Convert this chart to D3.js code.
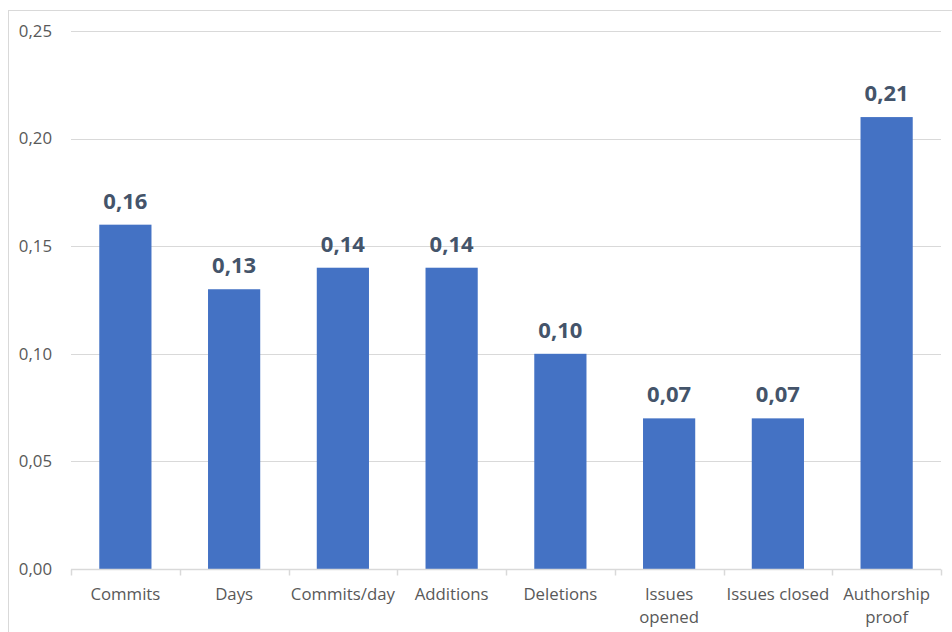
<!DOCTYPE html>
<html>
<head>
<meta charset="utf-8">
<script src="https://d3js.org/d3.v7.min.js"></script>
<style>
  body {
    margin: 0;
    background: #fff;
    font-family: "Open Sans", Arial, sans-serif;
  }
  .tick-label {
    font-size: 16.8px;
    fill: #595959;
  }
  .value-label {
    font-size: 22px;
    font-weight: bold;
    fill: #44546a;
  }
</style>
</head>
<body>
<div id="chart"></div>

<script>

// data
var categories = ["Commits", "Days", "Commits/day", "Additions", "Deletions", "Issues opened", "Issues closed", "Authorship proof"];
var catLines = [["Commits"], ["Days"], ["Commits/day"], ["Additions"], ["Deletions"], ["Issues", "opened"], ["Issues closed"], ["Authorship", "proof"]];
var values = [0.16, 0.13, 0.14, 0.14, 0.10, 0.07, 0.07, 0.21];
var yTicks = [0, 0.05, 0.10, 0.15, 0.20, 0.25];

var W = 952, H = 632;

var svg = d3.select("#chart")
  .append("svg")
    .attr("width", W)
    .attr("height", H);

// chart frame (runs off the right/bottom edge in the picture)
svg.append("rect")
    .attr("x", 8.5)
    .attr("y", 10.5)
    .attr("width", W + 20)
    .attr("height", H + 20)
    .attr("fill", "none")
    .attr("stroke", "#d9d9d9");

var locale = d3.formatLocale({decimal: ",", thousands: ".", grouping: [3], currency: ["", ""]});
var fmt = locale.format(".2f");

var x = d3.scaleBand()
    .domain(categories)
    .range([71, 941])
    .padding(0);

var y = d3.scaleLinear()
    .domain([0, 0.25])
    .range([569, 31]);

// gridlines
svg.append("g")
  .selectAll("line")
  .data(yTicks.filter(function(d) { return d > 0; }))
  .enter()
  .append("line")
    .attr("x1", 71)
    .attr("x2", 941)
    .attr("y1", function(d) { return Math.round(y(d)) + 0.5; })
    .attr("y2", function(d) { return Math.round(y(d)) + 0.5; })
    .attr("stroke", "#d9d9d9")
    .attr("stroke-width", 1.2);

// y labels
svg.append("g")
  .selectAll("text")
  .data(yTicks)
  .enter()
  .append("text")
    .attr("class", "tick-label")
    .attr("x", 52)
    .attr("y", function(d) { return y(d); })
    .attr("dy", "0.35em")
    .attr("text-anchor", "end")
    .text(function(d) { return fmt(d); });

// bars
var barW = x.bandwidth() * 0.48;
svg.append("g")
  .selectAll("rect")
  .data(values)
  .enter()
  .append("rect")
    .attr("x", function(d, i) { return x(categories[i]) + (x.bandwidth() - barW) / 2; })
    .attr("y", function(d) { return y(d); })
    .attr("width", barW)
    .attr("height", function(d) { return y(0) - y(d); })
    .attr("fill", "#4472c4");

// value labels
svg.append("g")
  .selectAll("text")
  .data(values)
  .enter()
  .append("text")
    .attr("class", "value-label")
    .attr("x", function(d, i) { return x(categories[i]) + x.bandwidth() / 2; })
    .attr("y", function(d) { return y(d) - 16; })
    .attr("text-anchor", "middle")
    .text(function(d) { return fmt(d); });

// x axis line + tick marks
var base = Math.round(y(0)) + 0.5;
svg.append("line")
    .attr("x1", 71)
    .attr("x2", 941)
    .attr("y1", base)
    .attr("y2", base)
    .attr("stroke", "#d9d9d9")
    .attr("stroke-width", 1.5);

var bounds = categories.map(function(c) { return x(c); }).concat([x.range()[1]]);
svg.append("g")
  .selectAll("line")
  .data(bounds)
  .enter()
  .append("line")
    .attr("x1", function(d) { return Math.round(d) + 0.5; })
    .attr("x2", function(d) { return Math.round(d) + 0.5; })
    .attr("y1", base)
    .attr("y2", base + 6)
    .attr("stroke", "#d9d9d9")
    .attr("stroke-width", 1.5);

// category labels
var cat = svg.append("g")
  .selectAll("text")
  .data(categories)
  .enter()
  .append("text")
    .attr("class", "tick-label")
    .attr("text-anchor", "middle")
    .attr("x", function(d) { return x(d) + x.bandwidth() / 2; })
    .attr("y", 600);

cat.selectAll("tspan")
  .data(function(d, i) { return catLines[i]; })
  .enter()
  .append("tspan")
    .attr("x", function() { var p = this.parentNode; return p.getAttribute("x"); })
    .attr("dy", function(d, j) { return j === 0 ? 0 : 23; })
    .text(function(d) { return d; });

</script>
</body>
</html>
